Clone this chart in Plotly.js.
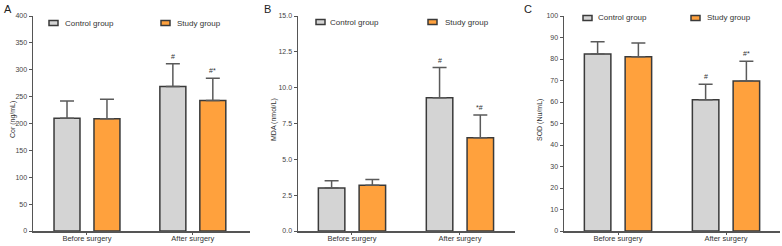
<!DOCTYPE html>
<html>
<head>
<meta charset="utf-8">
<script src="https://cdn.plot.ly/plotly-3.0.1.min.js"></script>
<style>html,body{margin:0;padding:0;background:#fff;}#chart{width:782px;height:246px;}</style>
</head>
<body>
<div id="chart"></div>
<script>
const categories = ["Before surgery", "After surgery"];
const seriesNames = ["Control group", "Study group"];

// Panel A: Cor (ng/mL)
const corControl = [210, 269];
const corControlSD = [32, 42];
const corStudy = [209, 243];
const corStudySD = [36, 41];
const corControlMarks = ["", "#"];
const corStudyMarks = ["", "#*"];

// Panel B: MDA (nmol/L)
const mdaControl = [3.0, 9.3];
const mdaControlSD = [0.5, 2.1];
const mdaStudy = [3.2, 6.5];
const mdaStudySD = [0.4, 1.6];
const mdaControlMarks = ["", "#"];
const mdaStudyMarks = ["", "*#"];

// Panel C: SOD (Nu/mL)
const sodControl = [82.3, 61.0];
const sodControlSD = [5.7, 7.3];
const sodStudy = [81.0, 69.8];
const sodStudySD = [6.5, 9.2];
const sodControlMarks = ["", "#"];
const sodStudyMarks = ["", "#*"];

const panelLetters = ["A", "B", "C"];
const yTitles = ["Cor (ng/mL)", "MDA (nmol/L)", "SOD (Nu/mL)"];

const W = 782, H = 246, MT = 16, MB = 15;
const colors = ["#d4d4d4", "#ffa13d"];
const FONT = "Liberation Sans, Arial, sans-serif";

const panels = [
  {c: corControl, cs: corControlSD, s: corStudy, ss: corStudySD, cm: corControlMarks, sm: corStudyMarks,
   xd: [33, 250], xr: [-0.51, 1.54], yr: [0, 400], dtick: 50, fmt: "d",
   leg: [[49, 63, 23], [161, 175, 23]], ytx: 13, letterX: 2},
  {c: mdaControl, cs: mdaControlSD, s: mdaStudy, ss: mdaStudySD, cm: mdaControlMarks, sm: mdaStudyMarks,
   xd: [298, 515], xr: [-0.5, 1.51], yr: [0, 15], dtick: 2.5, fmt: ".1f",
   leg: [[316, 328, 22], [428, 443, 22]], ytx: 274, letterX: 262},
  {c: sodControl, cs: sodControlSD, s: sodStudy, ss: sodStudySD, cm: sodControlMarks, sm: sodStudyMarks,
   xd: [564, 780], xr: [-0.5, 1.5], yr: [0, 100], dtick: 10, fmt: "d",
   leg: [[583, 596, 18], [691, 705, 18]], ytx: 540, letterX: 522}
];

const traces = [];
const annotations = [];
const shapes = [];
const layout = {
  width: W, height: H,
  margin: {l: 0, r: 0, t: MT, b: MB, pad: 0},
  paper_bgcolor: "#fff", plot_bgcolor: "#fff",
  showlegend: false,
  barmode: "group", bargap: 0.245, bargroupgap: 0.35,
  font: {family: FONT, color: "#333"}
};

const py = p => (H - MB - p) / (H - MT - MB);

panels.forEach((p, i) => {
  const n = i === 0 ? "" : String(i + 1);
  const xa = "x" + n, ya = "y" + n;
  [[p.c, p.cs, p.cm], [p.s, p.ss, p.sm]].forEach((d, k) => {
    traces.push({
      type: "bar", x: categories, y: d[0], name: seriesNames[k],
      xaxis: xa, yaxis: ya,
      marker: {color: colors[k], line: {color: "#3a3a3a", width: 1.5}},
      error_y: {type: "data", symmetric: false, array: d[1], arrayminus: d[1].map(() => 0),
                color: "#5a5a5a", thickness: 1.5, width: 7},
      hoverinfo: "skip"
    });
    d[2].forEach((m, j) => {
      if (!m) return;
      annotations.push({
        xref: xa, yref: ya, x: categories[j], y: d[0][j] + d[1][j],
        xshift: k === 0 ? -20 : 20, yshift: 2, yanchor: "bottom", showarrow: false,
        text: m, font: {size: 7, color: "#333", family: FONT}
      });
    });
  });
  layout["xaxis" + n] = {
    domain: [p.xd[0] / W, p.xd[1] / W], anchor: ya, type: "category", range: p.xr,
    showline: true, linecolor: "#555", linewidth: 1.5, ticks: "outside", ticklen: 2,
    tickcolor: "#555", tickwidth: 1, tickfont: {size: 7.5, color: "#333"},
    ticklabelstandoff: -3,
    showgrid: false, zeroline: false, fixedrange: true, automargin: false
  };
  layout["yaxis" + n] = {
    anchor: xa, range: p.yr, dtick: p.dtick, tick0: 0, tickformat: p.fmt,
    showline: true, linecolor: "#555", linewidth: 1.5, ticks: "outside", ticklen: 3,
    tickcolor: "#555", tickwidth: 1, tickfont: {size: 7, color: "#444"},
    showgrid: false, zeroline: false, fixedrange: true, automargin: false
  };
  // panel letter
  annotations.push({xref: "paper", yref: "paper", x: p.letterX / W, y: py(1), xanchor: "left", yanchor: "top",
    text: panelLetters[i], showarrow: false, font: {size: 11, color: "#222", family: FONT}});
  // y title
  annotations.push({xref: "paper", yref: "paper", x: p.ytx / W, y: py(120), xanchor: "center", yanchor: "middle",
    textangle: -90, text: yTitles[i], showarrow: false, font: {size: 7, color: "#333", family: FONT}});
  // legend
  p.leg.forEach((l, k) => {
    shapes.push({type: "rect", xref: "paper", yref: "paper",
      x0: l[0] / W, x1: (l[0] + 9) / W, y0: py(l[2] + 2.5), y1: py(l[2] - 2.5),
      fillcolor: colors[k], line: {color: "#3a3a3a", width: 1.5}});
    annotations.push({xref: "paper", yref: "paper", x: l[1] / W, y: py(l[2]), xanchor: "left", yanchor: "middle",
      text: seriesNames[k], showarrow: false, font: {size: 8, color: "#333", family: FONT}});
  });
});

layout.annotations = annotations;
layout.shapes = shapes;

Plotly.newPlot("chart", traces, layout, {staticPlot: true, displayModeBar: false});
</script>
</body>
</html>
